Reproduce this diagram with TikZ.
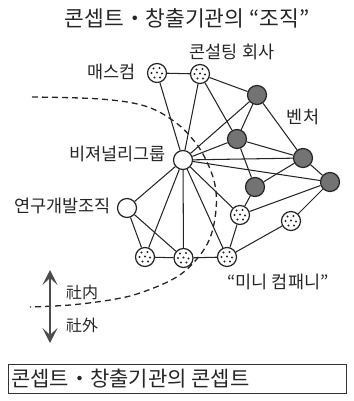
\documentclass[tikz,border=0pt]{standalone}
\usepackage{fontspec}
\setmainfont{Noto Sans CJK KR}
\usetikzlibrary{arrows.meta}
\begin{document}
\begin{tikzpicture}[x=1pt,y=-1pt,
  nd/.style={circle,draw=black!85,line width=1.2pt,minimum size=19pt,inner sep=0pt},
  wnode/.style={nd,fill=white},
  gnode/.style={nd,fill=black!55},
  dnode/.style={nd,fill=white,path picture={
     \foreach \a/\b in {-3.5/-4.5,2.5/-5,-5.5/0,0/-0.5,5/0.5,-2.5/4.5,3/4.5}
       \fill[black!85] (path picture bounding box.center) ++(\a,\b) circle (1.1pt);}},
  link/.style={line width=1.05pt,black!85},
  lbl/.style={font=\fontsize{17.5}{20}\selectfont,inner sep=0pt,text=black!85},
  sml/.style={font=\fontsize{16}{18}\selectfont,inner sep=0pt,text=black!85},
  dashline/.style={line width=1.3pt,black!85,dash pattern=on 6pt off 4pt},
  dblarrow/.style={line width=2pt,black!70,{Stealth[length=15pt,width=15pt,inset=7pt]}-{Stealth[length=15pt,width=15pt,inset=7pt]}}
]
\useasboundingbox (0,0) rectangle (353,401);

% title
\node[font=\fontsize{21.5}{24}\selectfont,inner sep=0pt,text=black!85] (title) at (187,18) {콘셉트・창출기관의 “조직”};

% nodes
\node[dnode] (M) at (157,73) {};
\node[dnode] (C) at (200,74) {};
\node[gnode] (V1) at (257,95) {};
\node[gnode] (V2) at (237,139) {};
\node[gnode] (V3) at (303,158) {};
\node[gnode] (V4) at (330,182) {};
\node[gnode] (V5) at (255,187) {};
\node[wnode] (B) at (183,160) {};
\node[wnode] (R) at (127,208) {};
\node[dnode] (D1) at (240,215) {};
\node[dnode] (D2) at (291,221) {};
\node[dnode] (D3) at (145,257) {};
\node[dnode] (D4) at (183.5,258) {};
\node[dnode] (D5) at (227,257) {};

% edges
\draw[link] (M) -- (C);
\draw[link] (M) -- (B);
\draw[link] (C) -- (B);
\draw[link] (C) -- (V1);
\draw[link] (C) -- (V2);
\draw[link] (V1) -- (B);
\draw[link] (V1) -- (V2);
\draw[link] (V1) -- (V3);
\draw[link] (V2) -- (B);
\draw[link] (V2) -- (V3);
\draw[link] (V2) -- (V5);
\draw[link] (B) -- (V3);
\draw[link] (B) -- (V4);
\draw[link] (V3) -- (V4);
\draw[link] (V3) -- (V5);
\draw[link] (V5) -- (D1);
\draw[link] (B) -- (D1);
\draw[link] (D1) -- (V4);
\draw[link] (V4) -- (D2);
\draw[link] (D1) -- (D5);
\draw[link] (D2) -- (D5);
\draw[link] (B) -- (D5);
\draw[link] (B) -- (D4);
\draw[link] (B) -- (D3);
\draw[link] (B) -- (R);
\draw[link] (R) -- (D3);
\draw[link] (R) -- (D4);
\draw[link] (D3) -- (D4);
\draw[link] (D4) -- (D5);

% dashed boundary
\draw[dashline] plot[smooth,tension=0.6] coordinates {(32,97) (100,99) (145,106) (175,122) (195,142) (207,162) (215,185) (216,210) (210,238) (196,260) (175,278) (140,293) (110,300) (70,305) (30,307)};

% labels
\node[lbl,anchor=east] (lM) at (136,72) {매스컴};
\node[lbl] (lC) at (232,52) {콘설팅 회사};
\node[lbl] (lV) at (303,117) {벤처};
\node[lbl,anchor=east] (lB) at (166,154) {비져널리그룹};
\node[lbl,anchor=east] (lR) at (111,206) {연구개발조직};
\node[lbl] (lD) at (278,282) {“미니 컴패니”};

% inside / outside arrow
\coordinate (atop) at (50,270);
\coordinate (abot) at (50,343);
\draw[dblarrow] (atop) -- (abot);
\node[sml,anchor=west] (lin) at (66,292) {社内};
\node[sml,anchor=west] (lout) at (66,325) {社外};

% bottom box
\node[draw=black!80,line width=0.8pt,anchor=north west,minimum width=338pt,minimum height=29pt,inner sep=0pt] (box) at (8,364) {};
\node[font=\fontsize{21}{24}\selectfont,inner sep=0pt,anchor=west,text=black!85] (boxtext) at (11,379) {콘셉트・창출기관의 콘셉트};
\end{tikzpicture}
\end{document}
